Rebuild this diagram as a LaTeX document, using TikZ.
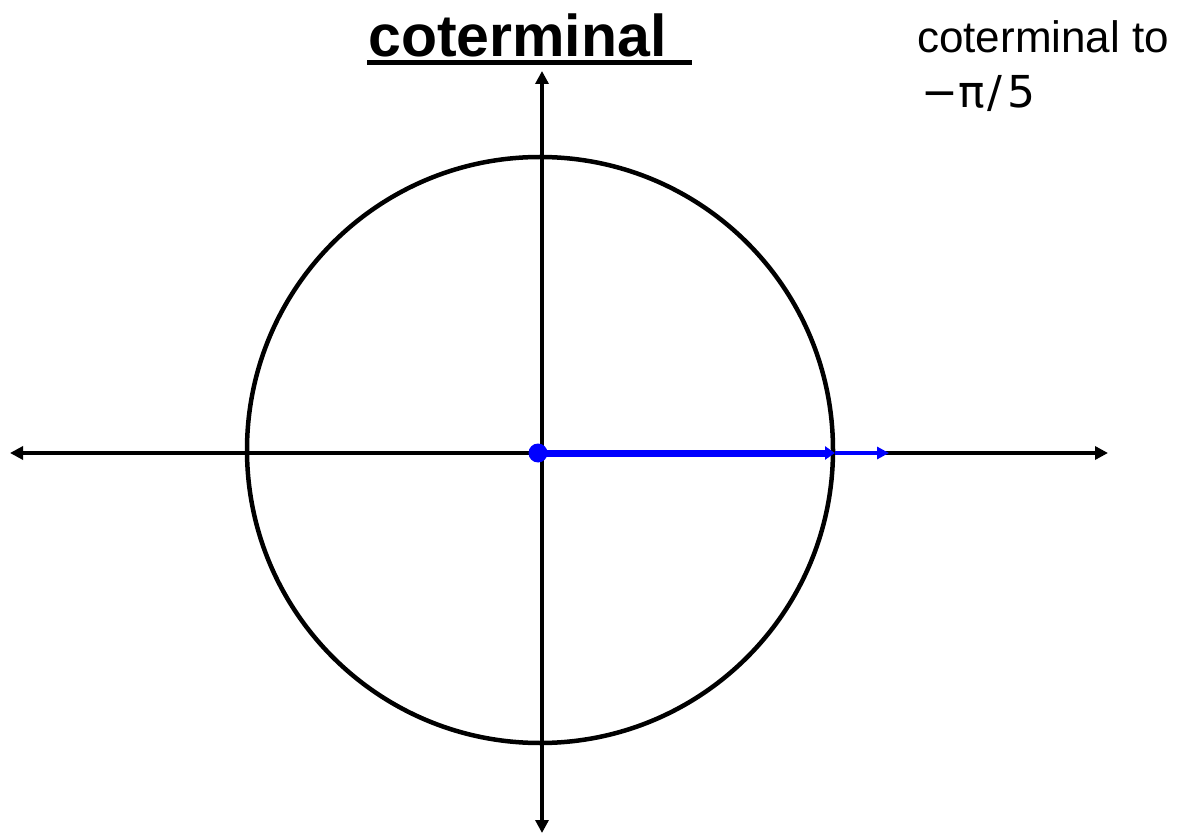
\documentclass[tikz,border=0pt]{standalone}
\usepackage{fontspec}
\setmainfont{Liberation Sans}
\newfontfamily\dejavu{DejaVu Sans}
\usetikzlibrary{arrows.meta,calc}
\begin{document}
\begin{tikzpicture}[x=1pt,y=-1pt,
  axis/.style={line width=4pt,-{Triangle[length=13pt,width=13pt]}},
  blueray/.style={blue,line width=7pt,-{Triangle[length=10pt,width=13pt]}},
  bluetip/.style={blue,line width=4.2pt,-{Triangle[length=12pt,width=12pt]}},
  unitcircle/.style={line width=4.5pt}]
\useasboundingbox (0,0) rectangle (1195,834);
% centre and axis ends
\coordinate (O) at (542,453);
\coordinate (C) at (540,450);
\coordinate (L) at (10,453);
\coordinate (R) at (1108,453);
\coordinate (T) at (542,71);
\coordinate (B) at (542,833);
\coordinate (P) at (835,453);
\coordinate (Q) at (889,453);
% circle
\draw[unitcircle] (C) circle[radius=293];
% axes
\draw[axis] (O) -- (L);
\draw[axis] (O) -- (R);
\draw[axis] (O) -- (T);
\draw[axis] (O) -- (B);
% blue ray
\node[circle,fill=blue,inner sep=0,minimum size=19pt] (dot) at (538,453) {};
\draw[bluetip] (P) -- (Q);
\draw[blueray] (dot.center) -- (P);
% title
\node[anchor=base west,inner sep=0,font=\fontsize{59}{60}\selectfont\bfseries] (title) at (368,57) {coterminal};
\draw[line width=4.5pt] ($(title.base west)+(-1,5.5)$) -- ($(title.base west)+(324,5.5)$);
% right text
\node[anchor=base west,inner sep=0,font=\fontsize{44}{46}\selectfont] (ct) at (917,53) {coterminal to};
\node[anchor=base west,inner sep=0,font=\dejavu\fontsize{44}{46}\selectfont] (ang) at (921,108) {−π\kern3pt/\kern5pt5};
\end{tikzpicture}
\end{document}
